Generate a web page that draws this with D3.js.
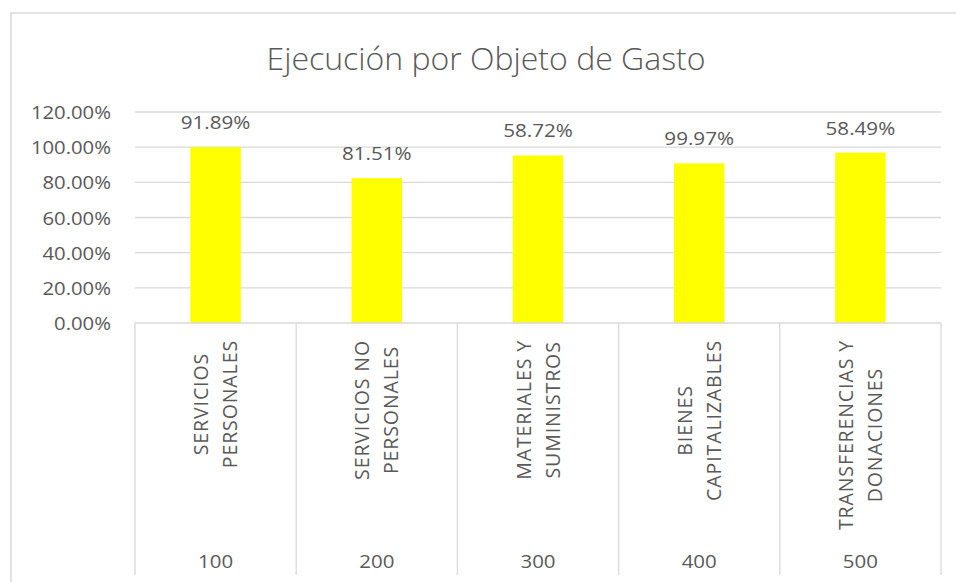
<!DOCTYPE html>
<html>
<head>
<meta charset="utf-8">
<script src="https://cdn.jsdelivr.net/npm/d3@7"></script>
<style>
  html, body { margin: 0; padding: 0; background: #ffffff; }
  svg { display: block; }
  text { font-family: "Open Sans", "Liberation Sans", sans-serif; fill: #595959; }
</style>
</head>
<body>
<svg id="chart" width="956" height="582"></svg>
<script>
const title = "Ejecución por Objeto de Gasto";
const codes = ["100", "200", "300", "400", "500"];
const categoryNames = [
  ["SERVICIOS", "PERSONALES"],
  ["SERVICIOS NO", "PERSONALES"],
  ["MATERIALES Y", "SUMINISTROS"],
  ["BIENES", "CAPITALIZABLES"],
  ["TRANSFERENCIAS Y", "DONACIONES"]
];
const barValues = [1.00, 0.824, 0.953, 0.908, 0.969];
const dataLabels = ["91.89%", "81.51%", "58.72%", "99.97%", "58.49%"];
const yTicks = [0, 0.2, 0.4, 0.6, 0.8, 1.0, 1.2];

(function () {
const svg = d3.select("#chart");
const plotLeft = 135, plotRight = 941, plotTop = 112, base = 323;
const gridColor = "#d9d9d9";
const sx = 1.16; // horizontal stretch of the small texts

// chart border (top and left visible)
svg.append("rect")
  .attr("x", 11).attr("y", 13)
  .attr("width", 1000).attr("height", 700)
  .attr("fill", "none").attr("stroke", gridColor).attr("stroke-width", 1.5);

svg.append("text")
  .attr("x", 486).attr("y", 70)
  .attr("text-anchor", "middle")
  .attr("font-size", 32)
  .style("font-weight", 300)
  .text(title);

const y = d3.scaleLinear().domain([0, 1.2]).range([base, plotTop]);
const x = d3.scaleBand().domain(codes).range([plotLeft, plotRight])
  .paddingInner(0.687).paddingOuter(0.3435);

// gridlines
svg.append("g").selectAll("line").data(yTicks.filter(d => d > 0)).join("line")
  .attr("x1", plotLeft).attr("x2", plotRight)
  .attr("y1", d => y(d)).attr("y2", d => y(d))
  .attr("stroke", gridColor).attr("stroke-width", 1.3);

// y axis labels
const yAxis = d3.axisLeft(y).tickValues(yTicks).tickFormat(d3.format(".2%")).tickSize(0).tickPadding(0);
const yg = svg.append("g").attr("transform", `translate(111,0)`).call(yAxis);
yg.select(".domain").remove();
yg.selectAll(".tick text")
  .attr("x", 0).attr("dy", null).attr("y", 6.5)
  .attr("font-size", 17.5).attr("fill", "#595959")
  .attr("transform", `scale(${sx},1)`)
  .style("font-family", '"Open Sans", sans-serif');

// bars
svg.append("g").selectAll("rect").data(codes).join("rect")
  .attr("x", d => x(d))
  .attr("width", x.bandwidth())
  .attr("y", (d, i) => y(barValues[i]))
  .attr("height", (d, i) => base - y(barValues[i]))
  .attr("fill", "#ffff00");

// data labels
svg.append("g").selectAll("text").data(codes).join("text")
  .attr("transform", (d, i) => `translate(${x(d) + x.bandwidth() / 2},${y(barValues[i]) - 18}) scale(${sx},1)`)
  .attr("text-anchor", "middle")
  .attr("font-size", 17.8)
  .text((d, i) => dataLabels[i]);

// x axis line & dividers
svg.append("line").attr("x1", plotLeft).attr("x2", plotRight).attr("y1", base).attr("y2", base)
  .attr("stroke", gridColor).attr("stroke-width", 1.3);
const step = x.step();
const bounds = codes.map((d, i) => plotLeft + i * step).concat([plotRight]);
svg.append("g").selectAll("line").data(bounds).join("line")
  .attr("x1", d => d).attr("x2", d => d)
  .attr("y1", base).attr("y2", 575)
  .attr("stroke", gridColor).attr("stroke-width", 1.3);

// category names (rotated)
const lineGap = 29;
const cg = svg.append("g");
codes.forEach((c, i) => {
  const cx = x(c) + x.bandwidth() / 2;
  const lines = categoryNames[i];
  const g = cg.append("g");
  const texts = lines.map((ln, j) => g.append("text")
    .attr("font-size", 19.5)
    .attr("letter-spacing", 0.9)
    .attr("text-anchor", "middle")
    .text(ln));
  const maxLen = d3.max(texts, t => t.node().getComputedTextLength());
  const cy = 340 + maxLen / 2;
  const n = lines.length;
  texts.forEach((t, j) => {
    const off = (j - (n - 1) / 2) * lineGap;
    const bx = cx + off + 7;
    t.attr("transform", `translate(${bx},${cy}) rotate(-90)`);
  });
});

// codes
svg.append("g").selectAll("text").data(codes).join("text")
  .attr("transform", d => `translate(${x(d) + x.bandwidth() / 2},567.5) scale(1.1,1)`)
  .attr("text-anchor", "middle")
  .attr("font-size", 18.6)
  .text(d => d);
})();
</script>
</body>
</html>
